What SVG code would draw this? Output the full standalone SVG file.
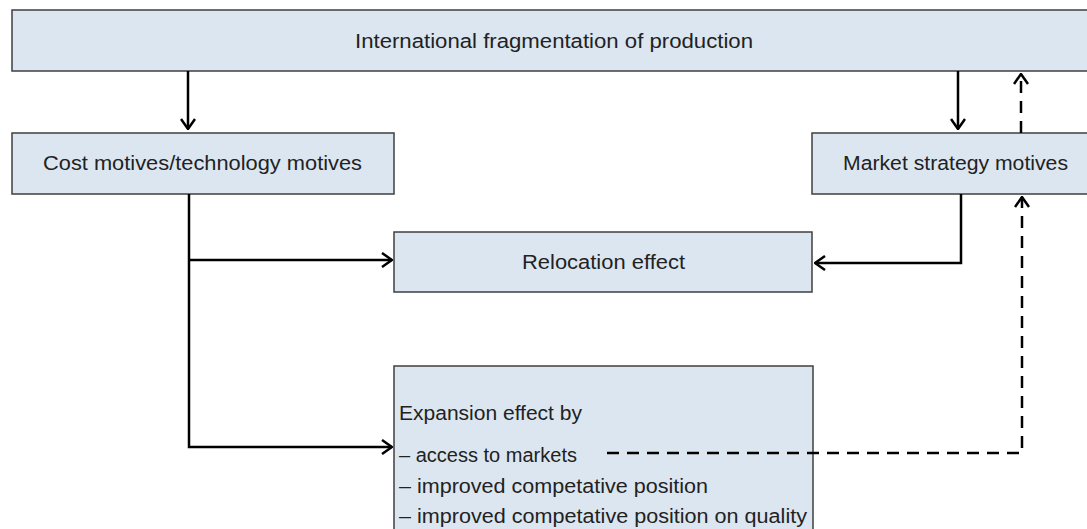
<svg xmlns="http://www.w3.org/2000/svg" width="1087" height="529" viewBox="0 0 1087 529">
<defs>
<style>
.box{fill:#dce6f1;stroke:#3f3f3f;stroke-width:1.5}
.t{font-family:"Liberation Sans",Arial,sans-serif;font-size:20px;fill:#222}
.ln{fill:none;stroke:#000;stroke-width:2.5}
.d{stroke-dasharray:12,8}
</style>
<marker id="ah" viewBox="0 0 12 16" refX="11" refY="8" markerWidth="12" markerHeight="16" markerUnits="userSpaceOnUse" orient="auto">
<path d="M1,1 L11,8 L1,15" fill="none" stroke="#000" stroke-width="2.5"/>
</marker>
</defs>
<rect width="1087" height="529" fill="#fff"/>
<g id="top">
<rect class="box" x="12" y="10" width="1090" height="61"/>
<text class="t" x="355" y="48" textLength="398" lengthAdjust="spacingAndGlyphs">International fragmentation of production</text>
</g>
<g id="cost">
<rect class="box" x="12" y="133" width="382" height="61"/>
<text class="t" x="43" y="170" textLength="319" lengthAdjust="spacingAndGlyphs">Cost motives/technology motives</text>
</g>
<g id="market">
<rect class="box" x="812" y="133" width="290" height="61"/>
<text class="t" x="843" y="170" textLength="225" lengthAdjust="spacingAndGlyphs">Market strategy motives</text>
</g>
<g id="relocation">
<rect class="box" x="394" y="232" width="418" height="60"/>
<text class="t" x="522" y="269" textLength="163" lengthAdjust="spacingAndGlyphs">Relocation effect</text>
</g>
<g id="expansion">
<rect class="box" x="394" y="366" width="419" height="180"/>
<text class="t" x="399" y="420" textLength="183" lengthAdjust="spacingAndGlyphs">Expansion effect by</text>
<text class="t" x="399" y="462" textLength="178" lengthAdjust="spacingAndGlyphs">– access to markets</text>
<text class="t" x="399" y="493" textLength="309" lengthAdjust="spacingAndGlyphs">– improved competative position</text>
<text class="t" x="399" y="523" textLength="408" lengthAdjust="spacingAndGlyphs">– improved competative position on quality</text>
</g>
<g id="connectors">
<path class="ln" d="M188,71 V129" marker-end="url(#ah)"/>
<path class="ln" d="M958,71 V129" marker-end="url(#ah)"/>
<path class="ln d" d="M1021,133 V74" marker-end="url(#ah)"/>
<path class="ln" d="M189,194 V447 H392" marker-end="url(#ah)"/>
<path class="ln" d="M189,260 H392" marker-end="url(#ah)"/>
<path class="ln" d="M961,194 V263 H815" marker-end="url(#ah)"/>
<path class="ln d" d="M607,453 H1022 V197" marker-end="url(#ah)"/>
</g>
</svg>
